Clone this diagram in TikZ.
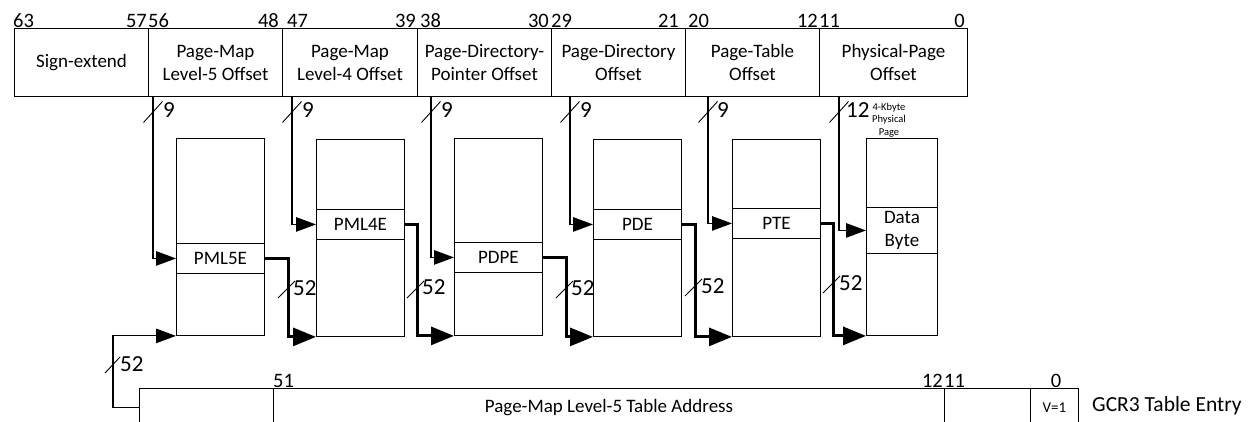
\documentclass[tikz,border=0pt]{standalone}
\usepackage{fontspec}
\setmainfont{Carlito}
\usetikzlibrary{arrows.meta}
\begin{document}
\begin{tikzpicture}[x=1pt,y=-1pt,
  field/.style={draw, line width=1pt, anchor=north west, inner sep=0pt, minimum height=68pt, align=center, font=\fontsize{19}{23}\selectfont},
  bitnum/.style={inner sep=0pt, font=\fontsize{20.5}{20.5}\selectfont},
  tbl/.style={draw, line width=0.9pt, anchor=north west, inner sep=0pt, minimum width=88pt, minimum height=197pt},
  entry/.style={draw, line width=0.9pt, anchor=north west, inner sep=0pt, minimum width=88pt, minimum height=30pt, font=\fontsize{19}{21}\selectfont},
  thinarrow/.style={line width=1.1pt, -{Triangle[length=20pt 0 0,width=14.5pt 0 0]}},
  thickarrow/.style={line width=3pt, -{Triangle[length=23pt 0 0,width=18pt 0 0]}},
  slash/.style={line width=0.9pt},
  cnt/.style={inner sep=0pt, anchor=west, font=\fontsize{23}{23}\selectfont},
  gcell/.style={draw, line width=1pt, anchor=north west, inner sep=0pt, minimum height=38pt, font=\fontsize{19}{21}\selectfont},
]
\clip (0,0) rectangle (1251,422);
% top fields
\node[field, minimum width=134pt] (fse) at (14,28) {Sign-extend};
\node[field, minimum width=134pt] (f5) at (148,28) {Page-Map\\Level-5 Offset};
\node[field, minimum width=135pt] (f4) at (282,28) {Page-Map\\Level-4 Offset};
\node[field, minimum width=134pt] (f3) at (417,28) {Page-Directory-\\Pointer Offset};
\node[field, minimum width=134pt] (f2) at (551,28) {Page-Directory\\Offset};
\node[field, minimum width=134pt] (f1) at (685,28) {Page-Table\\Offset};
\node[field, minimum width=148pt] (f0) at (819,28) {Physical-Page\\Offset};
% bit numbers
\node[bitnum, anchor=base west] (b63) at (13,27.5) {63};
\node[bitnum, anchor=base east] (b57) at (147,27.5) {57};
\node[bitnum, anchor=base west] (b56) at (148,27.5) {56};
\node[bitnum, anchor=base east] (b48) at (279,27.5) {48};
\node[bitnum, anchor=base west] (b47) at (287,27.5) {47};
\node[bitnum, anchor=base east] (b39) at (416,27.5) {39};
\node[bitnum, anchor=base west] (b38) at (420,27.5) {38};
\node[bitnum, anchor=base east] (b30) at (549,27.5) {30};
\node[bitnum, anchor=base west] (b29) at (551,27.5) {29};
\node[bitnum, anchor=base east] (b21) at (679,27.5) {21};
\node[bitnum, anchor=base west] (b20) at (688,27.5) {20};
\node[bitnum, anchor=base east] (b12) at (818,27.5) {12};
\node[bitnum, anchor=base west] (b11) at (819,27.5) {11};
\node[bitnum, anchor=base east] (b0) at (965,27.5) {0};
% tables
\node[tbl] (t5) at (176,138) {};
\node[entry] (e5) at (176,243) {PML5E};
\node[tbl] (t4) at (316,139) {};
\node[entry] (e4) at (316,209) {PML4E};
\node[tbl] (t3) at (454,138) {};
\node[entry] (e3) at (454,242) {PDPE};
\node[tbl] (t2) at (593,139) {};
\node[entry] (e2) at (593,209) {PDE};
\node[tbl] (t1) at (732,139) {};
\node[entry] (e1) at (732,208) {PTE};
\node[tbl, minimum width=71pt] (td) at (866,138) {};
\node[entry, minimum width=71pt, minimum height=46pt, align=center, font=\fontsize{19}{22.5}\selectfont] (ed) at (866,207) {Data\\Byte};
\node[align=center, inner sep=0pt, font=\fontsize{10.5}{12.5}\selectfont] (pg) at (889,120) {4-Kbyte\\Physical\\Page};
% offset arrows
\draw[thinarrow] ([xshift=5pt]f5.south west) |- (e5.west);
\draw[thinarrow] ([xshift=10pt]f4.south west) |- (e4.west);
\draw[thinarrow] ([xshift=14pt]f3.south west) |- (e3.west);
\draw[thinarrow] ([xshift=19pt]f2.south west) |- (e2.west);
\draw[thinarrow] ([xshift=23pt]f1.south west) |- (e1.west);
\draw[thinarrow] ([xshift=20pt]f0.south west) |- (ed.west);
% offset slashes and counts
\draw[slash] (143.5,122.5) -- (162.5,101.5);
\node[cnt] (n5) at (163,110) {9};
\draw[slash] (282.5,122.5) -- (301.5,101.5);
\node[cnt] (n4) at (302,110) {9};
\draw[slash] (421.5,122.5) -- (440.5,101.5);
\node[cnt] (n3) at (441,110) {9};
\draw[slash] (560.5,122.5) -- (579.5,101.5);
\node[cnt] (n2) at (580,110) {9};
\draw[slash] (698.5,122.5) -- (717.5,101.5);
\node[cnt] (n1) at (717,110) {9};
\draw[slash] (829.5,122.5) -- (848.5,101.5);
\node[cnt] (n0) at (846,110) {12};
% thick connectors
\draw[thickarrow] (e5.east) -| ([xshift=-28pt]t4.south west) -- (t4.south west);
\draw[thickarrow] (e4.east) -| ([xshift=-37pt]t3.south west) -- (t3.south west);
\draw[thickarrow] (e3.east) -| ([xshift=-27pt]t2.south west) -- (t2.south west);
\draw[thickarrow] (e2.east) -| ([xshift=-37pt]t1.south west) -- (t1.south west);
\draw[thickarrow] (e1.east) -| ([xshift=-33pt]td.south west) -- (td.south west);
% thick slashes
\draw[slash] (278,298) -- (295,281);
\node[cnt] (m4) at (293,288) {52};
\draw[slash] (407,298) -- (424,281);
\node[cnt] (m3) at (422,287) {52};
\draw[slash] (556,298) -- (573,281);
\node[cnt] (m2) at (571,288) {52};
\draw[slash] (685,296) -- (702,279);
\node[cnt] (m1) at (701,286) {52};
\draw[slash] (823,293) -- (840,276);
\node[cnt] (m0) at (839,283) {52};
% GCR3 entry
\node[gcell, minimum width=134pt] (g0) at (139,388) {};
\node[gcell, minimum width=671pt] (g1) at (273,388) {Page-Map Level-5 Table Address};
\node[gcell, minimum width=86pt] (g2) at (944,388) {};
\node[gcell, minimum width=48pt, font=\fontsize{15}{15}\selectfont] (g3) at (1030,388) {V=1};
\node[anchor=west, inner sep=0pt, font=\fontsize{21.5}{24}\selectfont] (gl) at (1092,406) {GCR3 Table Entry};
\node[bitnum, anchor=base west] (c51) at (273,387) {51};
\node[bitnum, anchor=base east] (c12) at (943,387) {12};
\node[bitnum, anchor=base west] (c11) at (944,387) {11};
\node[bitnum, anchor=base] (c0) at (1056,387) {0};
% loop to PML5 table
\draw[thinarrow] (g0.west) -- ++(-26,0) |- (t5.south west);
\draw[slash] (105,373) -- (120,357);
\node[cnt] (lc) at (120,364) {52};
\end{tikzpicture}
\end{document}
